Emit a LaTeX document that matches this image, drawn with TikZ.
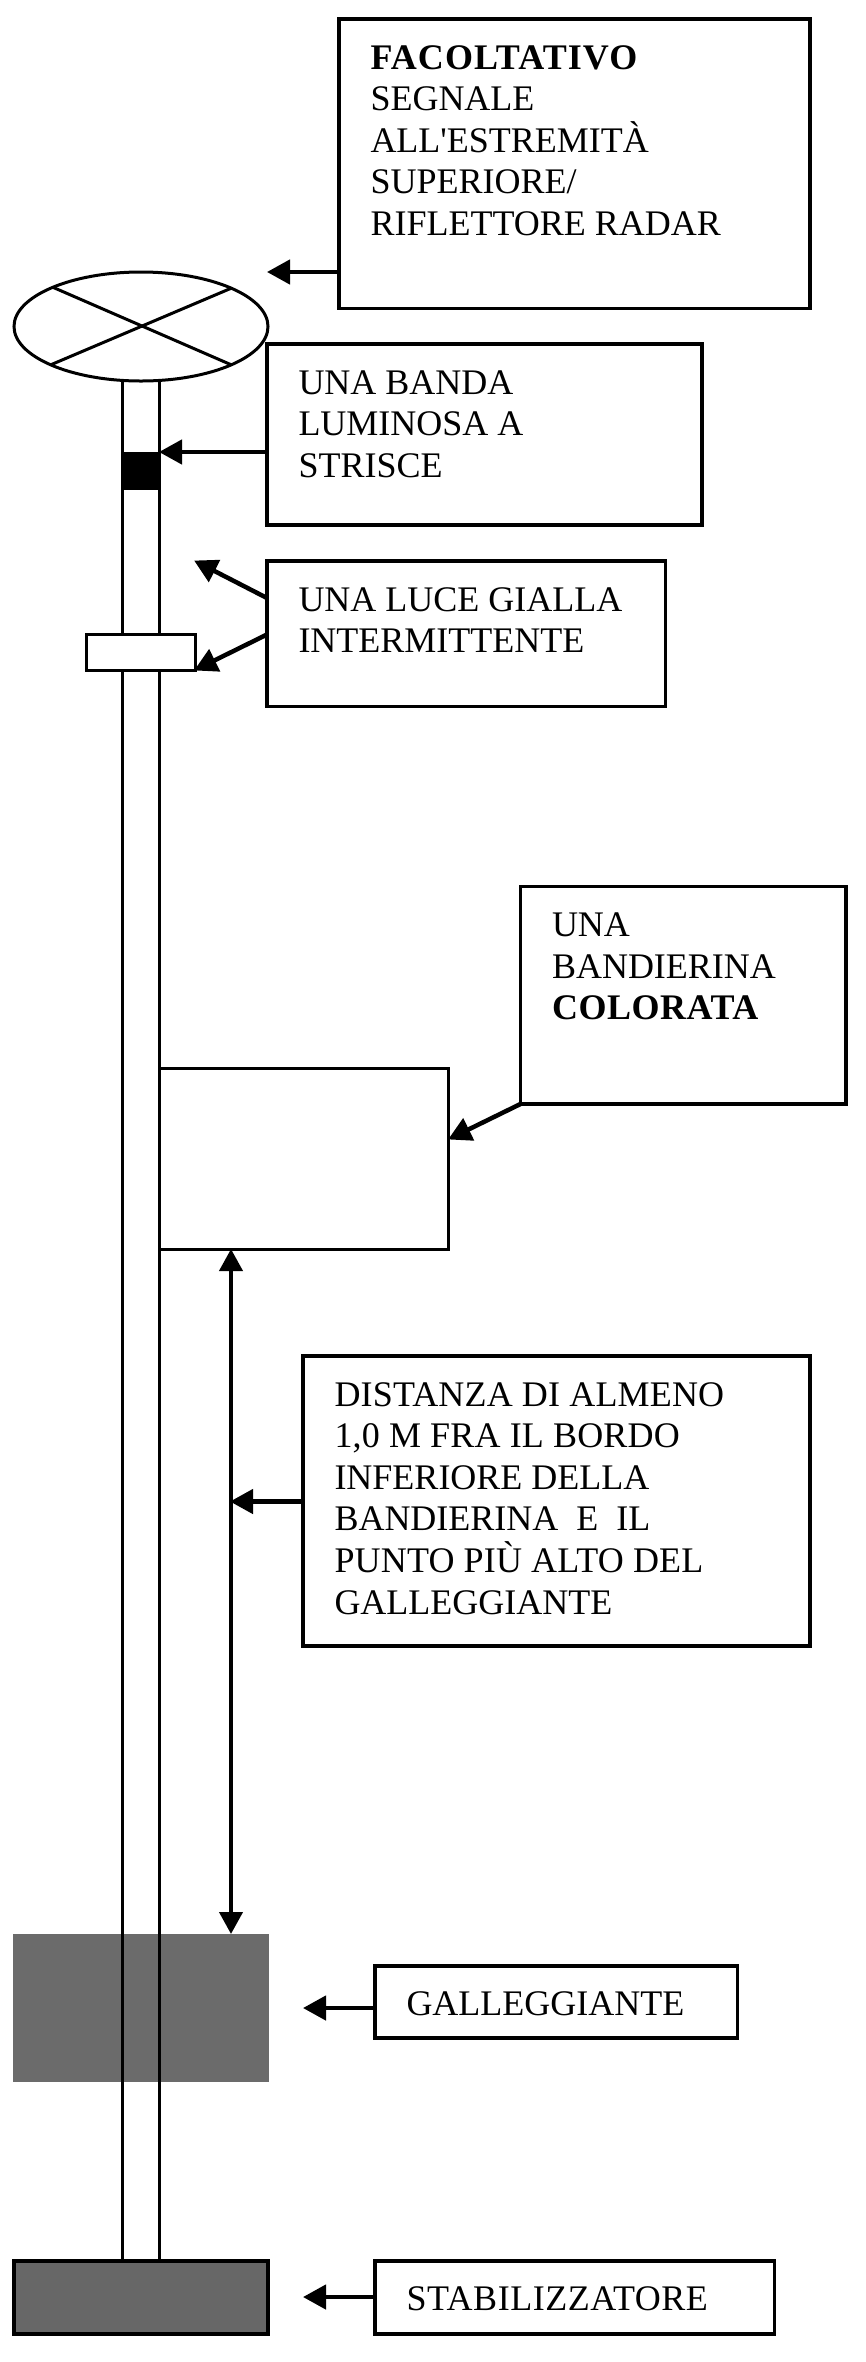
\documentclass[tikz,border=0pt]{standalone}
\usepackage{fontspec}
\setmainfont{Liberation Serif}[Ligatures=TeXOff]
\usetikzlibrary{arrows.meta,shapes.geometric}
\definecolor{floatgray}{HTML}{6B6B6B}
\definecolor{stabgray}{HTML}{676767}

% Slightly opened-up setting for a single run of text; the argument is in percent of the size
\newcommand{\spaced}[2]{{\addfontfeatures{LetterSpace=#1}#2}}

% Framed caption: width, height, lines of text set from the top left corner
\newcommand{\captionbody}[3]{%
  \parbox[c][#2pt][t]{#1pt}{%
    \vspace*{26pt}%
    \fontsize{36}{41.6}\selectfont\setlength{\parindent}{0pt}%
    \leftskip=31.5pt\rightskip=0pt plus 1fil\relax
    \rule{0pt}{24pt}#3\par}}

\tikzset{
  x=1pt, y=-1pt,
  panel/.style={draw=black, line width=3.3pt, fill=white, inner sep=0pt, outer sep=0pt, anchor=north west},
  part/.style={draw=black, line width=3pt, inner sep=0pt, outer sep=0pt, anchor=north west},
  pointer/.style={line width=4.5pt, -{Triangle[length=23pt,width=24pt]}, shorten >=-1pt},
  span/.style={line width=4pt, {Triangle[length=22pt,width=23pt]}-{Triangle[length=22pt,width=23pt]}},
  mast/.style={line width=3pt},
  crossbar/.style={line width=3pt}
}

\begin{document}
\begin{tikzpicture}
\useasboundingbox (0,0) rectangle (865,2362);

% Float, drawn first so the mast shows across it
\node[anchor=north west, fill=floatgray, inner sep=0pt, outer sep=0pt,
      minimum width=256pt, minimum height=148pt] (float) at (13,1934) {};

% Stabiliser at the foot of the mast
\node[part, line width=3.5pt, fill=stabgray, minimum width=254pt, minimum height=73pt] (stab) at (14,2261) {};

% Mast
\coordinate (mastL) at (122.5,360);
\coordinate (mastR) at (159,360);
\draw[mast] (mastL) -- (mastL |- stab.north);
\draw[mast] (mastR) -- (mastR |- stab.north);

% Top mark with its cross
\node[ellipse, draw=black, line width=3pt, fill=white, inner sep=0pt, outer sep=0pt,
      minimum width=254pt, minimum height=109pt] (topmark) at (141,326.5) {};
\draw[crossbar] (topmark.156.8) -- (topmark.-23.6);
\draw[crossbar] (topmark.23.6) -- (topmark.203.7);

% Reflective band, light and flag on the mast
\node[anchor=north west, fill=black, inner sep=0pt, outer sep=0pt,
      minimum width=38pt, minimum height=38pt] (band) at (122,452) {};
\node[part, fill=white, minimum width=109pt, minimum height=36pt] (light) at (86,634) {};
\node[part, minimum width=289pt, minimum height=181pt] (flag) at (159,1068) {};

% Captions
\node[panel] (capTop) at (339,19) {\captionbody{471}{289.5}{\textbf{\spaced{3}{FACOLTATIVO}}\\SEGNALE\\ALL'ESTREMITÀ\\SUPERIORE/\\RIFLETTORE RADAR}};
\node[panel] (capBand) at (267,344) {\captionbody{435}{181}{UNA BANDA\\LUMINOSA A\\STRISCE}};
\node[panel] (capLight) at (267,561) {\captionbody{398.5}{145.5}{UNA LUCE GIALLA\\INTERMITTENTE}};
\node[panel] (capFlag) at (520.5,886.5) {\captionbody{325.5}{217.5}{UNA\\BANDIERINA\\\textbf{\spaced{1.5}{COLORATA}}}};
\node[panel] (capDist) at (303,1356) {\captionbody{507}{290}{\spaced{0.5}{DISTANZA DI ALMENO}\\\spaced{0.5}{1,0 M FRA IL BORDO}\\INFERIORE DELLA\\BANDIERINA~ E~ IL\\\spaced{0.5}{PUNTO PIÙ ALTO DEL}\\GALLEGGIANTE}};
\node[panel] (capFloat) at (375,1966) {\captionbody{362.5}{72}{\raisebox{1.5pt}{GALLEGGIANTE}}};
\node[panel] (capStab) at (375,2261) {\captionbody{399.5}{73}{\raisebox{1.5pt}{\spaced{1.5}{STABILIZZATORE}}}};

% Anchor points for the pointers
\coordinate (topTip) at (268,272);
\coordinate (lightTipHigh) at (195,561);
\coordinate (lightFromHigh) at (267,598);
\coordinate (lightFromLow) at (267,634.5);
\coordinate (flagTip) at (449,1139);
\coordinate (spanX) at (231,1501.5);
\coordinate (floatTip) at (304,2008);
\coordinate (stabTip) at (304,2297);

% Pointers from the captions
\draw[pointer] (capTop.west |- topTip) -- (topTip);
\draw[pointer] (capBand.west |- band.north east) -- (band.north east);
\draw[pointer] (lightFromHigh) -- (lightTipHigh);
\draw[pointer] (lightFromLow) -- (light.south east);
\draw[pointer] (capFlag.south west) -- (flagTip);
\draw[pointer] (capDist.west |- spanX) -- (spanX);
\draw[pointer] (capFloat.west |- floatTip) -- (floatTip);
\draw[pointer] (capStab.west |- stabTip) -- (stabTip);

% Minimum distance between flag and float
\draw[span] (flag.south -| spanX) -- (float.north -| spanX);
\end{tikzpicture}
\end{document}
